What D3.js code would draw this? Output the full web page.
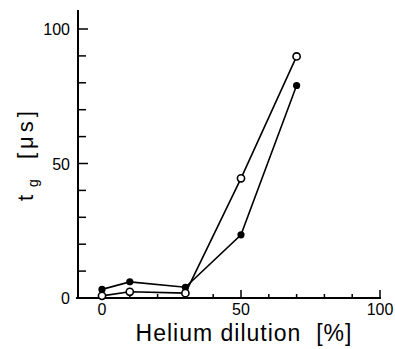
<!DOCTYPE html>
<html>
<head>
<meta charset="utf-8">
<script src="https://cdn.jsdelivr.net/npm/d3@7"></script>
<style>
  body { margin: 0; background: #fff; }
  svg text { font-family: "Liberation Sans", Arial, sans-serif; fill: #000; }
</style>
</head>
<body>
<div id="chart"></div>
<script>
const dilution = [0, 10, 30, 50, 70];
const filledSeries = [3.2, 6, 4, 23.5, 79];
const openSeries = [0.8, 2.3, 1.8, 44.5, 89.8];
const xTickLabels = [0, 50, 100];
const yTickLabels = [0, 50, 100];

const width = 395;
const height = 349;

const x = d3.scaleLinear().domain([0, 100]).range([102, 380]);
const y = d3.scaleLinear().domain([0, 100]).range([298, 29]);

const svg = d3.select("#chart")
  .append("svg")
  .attr("width", width)
  .attr("height", height);

// axes lines
svg.append("line")
  .attr("x1", 78).attr("x2", 78)
  .attr("y1", 10).attr("y2", y(0))
  .attr("stroke", "#000").attr("stroke-width", 2);

svg.append("line")
  .attr("x1", 76).attr("x2", x(100) + 1)
  .attr("y1", y(0)).attr("y2", y(0))
  .attr("stroke", "#000").attr("stroke-width", 2);

// y ticks, pointing inward
svg.append("g")
  .selectAll("line")
  .data(d3.range(10, 101, 10))
  .join("line")
  .attr("x1", 78)
  .attr("x2", (d) => (d % 50 === 0 ? 88 : 86))
  .attr("y1", (d) => y(d))
  .attr("y2", (d) => y(d))
  .attr("stroke", "#000")
  .attr("stroke-width", 1.5);

svg.append("g")
  .selectAll("text")
  .data(yTickLabels)
  .join("text")
  .attr("x", 70)
  .attr("y", (d) => y(d) + 6)
  .attr("text-anchor", "end")
  .attr("font-size", 16)
  .text((d) => d);

// x ticks, pointing inward
svg.append("g")
  .selectAll("line")
  .data(d3.range(10, 101, 10))
  .join("line")
  .attr("x1", (d) => x(d))
  .attr("x2", (d) => x(d))
  .attr("y1", y(0))
  .attr("y2", (d) => y(0) - (d % 50 === 0 ? 8 : 4))
  .attr("stroke", "#000")
  .attr("stroke-width", 1.5);

svg.append("g")
  .selectAll("text")
  .data(xTickLabels)
  .join("text")
  .attr("x", (d) => x(d))
  .attr("y", 315)
  .attr("text-anchor", "middle")
  .attr("font-size", 16)
  .text((d) => d);

// axis titles
svg.append("text")
  .attr("x", 244)
  .attr("y", 341)
  .attr("text-anchor", "middle")
  .attr("font-size", 23)
  .attr("letter-spacing", 1)
  .attr("xml:space", "preserve")
  .text("Helium dilution  [%]");

const yTitle = svg.append("text")
  .attr("transform", "translate(33,201) rotate(-90)")
  .attr("font-size", 22);
yTitle.append("tspan").text("t");
yTitle.append("tspan").attr("dx", 8).attr("dy", 5).attr("font-size", 14).text("g");
yTitle.append("tspan").attr("dx", 20).attr("dy", -5).attr("letter-spacing", 4).text("[μs]");

// series
const line = d3.line()
  .x((d, i) => x(dilution[i]))
  .y((d) => y(d));

svg.append("path")
  .attr("d", line(filledSeries))
  .attr("fill", "none")
  .attr("stroke", "#000")
  .attr("stroke-width", 1.6);

svg.append("path")
  .attr("d", line(openSeries))
  .attr("fill", "none")
  .attr("stroke", "#000")
  .attr("stroke-width", 1.6);

svg.append("g")
  .selectAll("circle")
  .data(filledSeries)
  .join("circle")
  .attr("cx", (d, i) => x(dilution[i]))
  .attr("cy", (d) => y(d))
  .attr("r", 3.6)
  .attr("fill", "#000");

svg.append("g")
  .selectAll("circle")
  .data(openSeries)
  .join("circle")
  .attr("cx", (d, i) => x(dilution[i]))
  .attr("cy", (d) => y(d))
  .attr("r", 3.6)
  .attr("fill", "#fff")
  .attr("stroke", "#000")
  .attr("stroke-width", 1.6);
</script>
</body>
</html>
